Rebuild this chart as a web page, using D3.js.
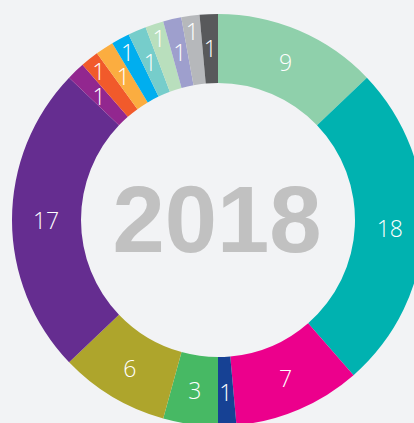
<!DOCTYPE html>
<html>
<head>
<meta charset="utf-8">
<script src="https://cdn.jsdelivr.net/npm/d3@7"></script>
<style>
  html, body { margin: 0; padding: 0; background: #f2f3f5; overflow: hidden; }
  svg { display: block; }
</style>
</head>
<body>
<div id="donut"></div>
<script>
// data, clockwise from the top
const categories = ["a", "b", "c", "d", "e", "f", "g", "h", "i", "j", "k", "l", "m", "n", "o", "p"];
const values = [9, 18, 7, 1, 3, 6, 17, 1, 1, 1, 1, 1, 1, 1, 1, 1];
const colors = ["#8fd0ab", "#00b2b0", "#ec008c", "#164194", "#47b964", "#aea52c", "#652d90",
	"#92278f", "#f15a2b", "#fbad40", "#00aeef", "#76cdcb", "#b9dfbd", "#9e9fcd", "#b6b8bb", "#58595b"];
const centerLabel = "2018";

const width = 414, height = 423;
const cx = 218, cy = 220;
const outerR = 206, innerR = 137;

const svg = d3.select("#donut")
	.append("svg")
	.attr("width", width)
	.attr("height", height)
	.append("g")
	.attr("transform", `translate(${cx}, ${cy})`);

const pie = d3.pie().sort(null).value(d => d.v);
const arcs = pie(categories.map((c, i) => ({c: c, v: values[i], col: colors[i]})));

const arc = d3.arc().innerRadius(innerR).outerRadius(outerR);

svg.append("g")
	.selectAll("path")
	.data(arcs)
	.join("path")
	.attr("d", arc)
	.attr("fill", d => d.data.col);

// thin slices next to each other get staggered labels
let prevSmall = false, prevPushed = false;
arcs.forEach(d => {
	const small = (d.endAngle - d.startAngle) < 0.12;
	d.push = small && prevSmall && !prevPushed;
	prevSmall = small;
	prevPushed = d.push;
});

svg.append("g")
	.selectAll("text")
	.data(arcs)
	.join("text")
	.attr("transform", d => {
		const a = (d.startAngle + d.endAngle) / 2;
		const r = d.push ? 191 : 172;
		return `translate(${Math.sin(a) * r}, ${-Math.cos(a) * r})`;
	})
	.attr("text-anchor", "middle")
	.attr("dominant-baseline", "central")
	.attr("fill", "#ffffff")
	.style("font-family", "'Open Sans', Lato, sans-serif")
	.style("font-weight", 300)
	.style("font-size", "23px")
	.text(d => d.data.v);

svg.append("text")
	.attr("x", -1)
	.attr("y", 32)
	.attr("text-anchor", "middle")
	.attr("fill", "#c1c1c1")
	.style("font-family", "'Liberation Sans', Arial, sans-serif")
	.style("font-weight", "bold")
	.style("font-size", "94px")
	.text(centerLabel);
</script>
</body>
</html>
